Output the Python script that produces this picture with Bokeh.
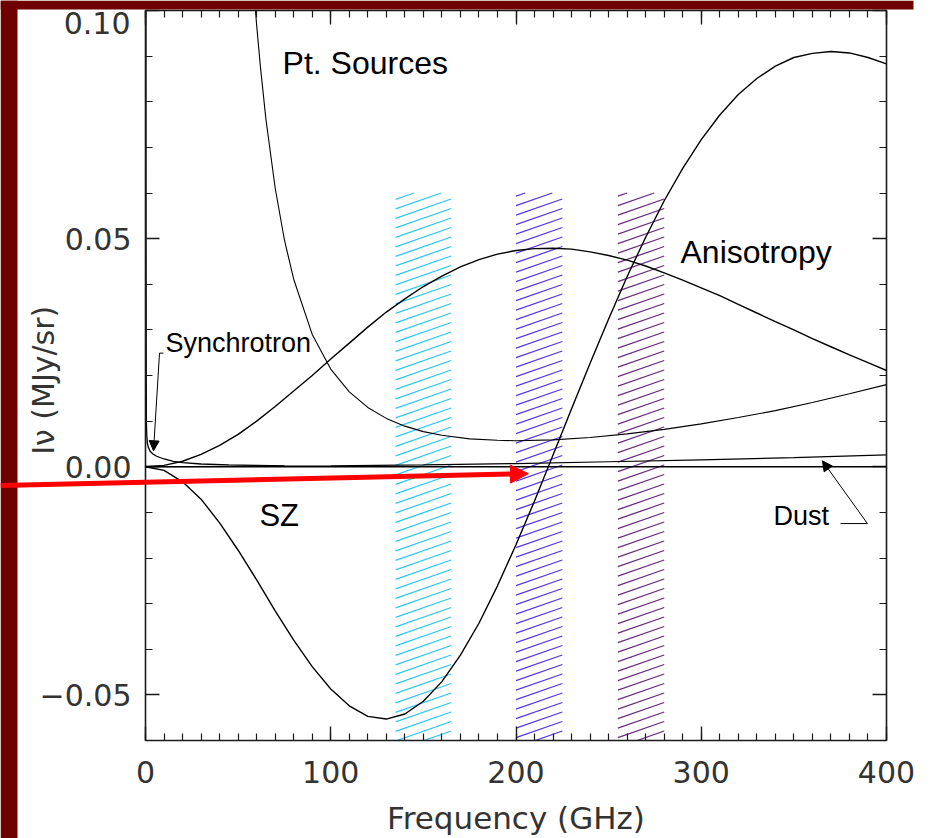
import numpy as np
from bokeh.plotting import figure
from bokeh.layouts import column
from bokeh.models import (Range1d, LinearAxis, FixedTicker, CustomJSTickFormatter,
                          Arrow, NormalHead, Label, Span)
from bokeh.embed import file_html
from bokeh.resources import INLINE

# ---------------- data ----------------
freq = [0, 10, 20, 30, 40, 50, 60, 70, 80, 90, 100, 110, 120, 130, 140, 150, 160,
        170, 180, 190, 200, 210, 220, 230, 240, 250, 260, 270, 280, 290, 300, 310,
        320, 330, 340, 350, 360, 370, 380, 390, 400]
sz = [0.0, -0.0008, -0.0033, -0.0071, -0.0123, -0.0183, -0.0248, -0.0316, -0.0380,
      -0.0438, -0.0487, -0.0524, -0.0547, -0.0553, -0.0542, -0.0514, -0.0471, -0.0413,
      -0.0343, -0.0261, -0.0171, -0.0075, 0.0026, 0.0127, 0.0227, 0.0324, 0.0417,
      0.0503, 0.0583, 0.0654, 0.0717, 0.0771, 0.0816, 0.0851, 0.0878, 0.0897, 0.0906,
      0.0910, 0.0907, 0.0897, 0.0883]
anisotropy = [0.0, 0.0003, 0.0012, 0.0027, 0.0047, 0.0071, 0.0100, 0.0132, 0.0166,
              0.0200, 0.0236, 0.0271, 0.0306, 0.0339, 0.0368, 0.0395, 0.0418, 0.0438,
              0.0454, 0.0466, 0.0474, 0.0478, 0.0479, 0.0477, 0.0471, 0.0463, 0.0453,
              0.0440, 0.0425, 0.0409, 0.0392, 0.0375, 0.0356, 0.0337, 0.0318, 0.0300,
              0.0281, 0.0263, 0.0245, 0.0228, 0.0211]

ps_freq = [58, 60, 62, 65, 70, 75, 80, 90, 100, 110, 120, 130, 140, 150, 160, 175,
           190, 200, 220, 240, 260, 280, 300, 320, 340, 360, 380, 400]
pt_sources = [0.1070, 0.0968, 0.0878, 0.0762, 0.0611, 0.0497, 0.0411, 0.0290, 0.0214,
              0.0164, 0.0130, 0.0106, 0.0089, 0.0077, 0.0069, 0.0061, 0.0058, 0.0057,
              0.0059, 0.0064, 0.0072, 0.0082, 0.0094, 0.0108, 0.0123, 0.0141, 0.0160,
              0.0180]

dust_freq = [0, 50, 100, 150, 200, 250, 300, 350, 400]
dust = [0.0, 0.0001, 0.0002, 0.0004, 0.0007, 0.0011, 0.0015, 0.0020, 0.0026]

sync_freq = [0.1, 0.2, 0.3, 0.4, 0.5, 0.7, 1.0, 1.5, 2.5, 4, 6, 10, 15, 20, 30, 45, 60, 75]
synchrotron = [0.30, 0.12, 0.05, 0.02, 0.0095, 0.0068, 0.0052, 0.0043, 0.0034, 0.0028,
               0.0023, 0.0017, 0.0012, 0.0009, 0.0006, 0.0004, 0.0003, 0.0002]

band_lo = [135, 200, 255]
band_hi = [165, 225, 280]
band_top = [0.06, 0.06, 0.06]
band_colors = ["#2cc8f4", "#5a34ee", "#6a2c7e"]

x_major = [0, 100, 200, 300, 400]
x_minor = list(range(0, 401, 10))
y_major = [-0.05, 0.0, 0.05, 0.10]
y_minor = [round(-0.06 + 0.01 * i, 2) for i in range(17)]

# ---------------- geometry ----------------
W, H = 934, 838
FL, FR, FT, FB = 145, 48, 10, 98
XR = (0, 400)
YR = (-0.06, 0.10)
px_per_x = (W - FL - FR) / (XR[1] - XR[0])
px_per_y = (H - FT - FB) / (YR[1] - YR[0])


def to_px(x, y):
    return FL + (x - XR[0]) * px_per_x, FT + (YR[1] - y) * px_per_y


# ---------------- main figure ----------------
p = figure(width=W, height=H, x_range=Range1d(*XR), y_range=Range1d(*YR),
           output_backend="svg", toolbar_location=None,
           min_border_left=FL, min_border_right=FR, min_border_top=FT, min_border_bottom=FB)
p.background_fill_color = "white"
p.border_fill_color = "white"
p.outline_line_color = None
p.xgrid.visible = False
p.ygrid.visible = False

tick_font = "DejaVu Sans"
ink = "#1a1a1a"
label_ink = "#333333"

# the top label (0.10) is drawn lower, below the frame edge, as in the reference
yfmt = CustomJSTickFormatter(code="""
    if (tick > 0.099) { return ""; }
    const s = Math.abs(tick).toFixed(2);
    return (tick < -1e-9 ? "\u2212" : "") + s;
""")
blank = CustomJSTickFormatter(code="return '';")


def style_axis(ax, labels=True, xaxis=True):
    ax.major_tick_in = 14
    ax.major_tick_out = 0
    ax.minor_tick_in = 7
    ax.minor_tick_out = 0
    ax.axis_line_color = ink
    ax.axis_line_width = 1.6
    ax.major_tick_line_color = ink
    ax.major_tick_line_width = 1.4
    ax.minor_tick_line_color = ink
    ax.minor_tick_line_width = 1.2
    if xaxis:
        ax.ticker = FixedTicker(ticks=x_major, minor_ticks=x_minor)
    else:
        ax.ticker = FixedTicker(ticks=y_major, minor_ticks=y_minor)
        ax.formatter = yfmt
    if labels:
        ax.major_label_text_font = tick_font
        ax.major_label_text_font_size = "30px"
        ax.major_label_text_color = label_ink
    else:
        ax.formatter = blank
        ax.major_label_text_font_size = "2px"
        ax.major_label_standoff = 0
        ax.axis_label = None


xa = p.xaxis[0]
ya = p.yaxis[0]
style_axis(xa, True, True)
style_axis(ya, True, False)
xa.major_label_standoff = 20
ya.major_label_standoff = 14
xa.axis_label = "Frequency (GHz)"
xa.axis_label_text_font = tick_font
xa.axis_label_text_font_size = "31px"
xa.axis_label_text_font_style = "normal"
xa.axis_label_text_color = label_ink
xa.axis_label_standoff = 14
ya.axis_label = "I\u03bd  (MJy/sr)"
ya.axis_label_text_font = tick_font
ya.axis_label_text_font_size = "30px"
ya.axis_label_text_font_style = "normal"
ya.axis_label_text_color = label_ink
ya.axis_label_standoff = -24

top_ax = LinearAxis()
right_ax = LinearAxis()
style_axis(top_ax, False, True)
style_axis(right_ax, False, False)
p.add_layout(top_ax, "above")
p.add_layout(right_ax, "right")

# ---------------- hatched frequency bands ----------------
slope = 0.35 * px_per_x / px_per_y      # data-units slope of the ~19 deg hatch lines
spacing = 9.5 / px_per_y                # vertical spacing between hatch lines

for lo, hi, top, col in zip(band_lo, band_hi, band_top, band_colors):
    bottom = YR[0]
    cs = np.arange(bottom - slope * (hi - lo), top, spacing)
    x0s, y0s, x1s, y1s = [], [], [], []
    for c in cs:
        xs, ys = lo, c
        xe, ye = hi, c + slope * (hi - lo)
        if ys < bottom:
            xs = lo + (bottom - c) / slope
            ys = bottom
        if ye > top:
            xe = lo + (top - c) / slope
            ye = top
        if xe > xs:
            x0s.append(xs); y0s.append(ys); x1s.append(xe); y1s.append(ye)
    p.segment(x0s, y0s, x1s, y1s, line_color=col, line_width=1.3)

# ---------------- curves ----------------
p.add_layout(Span(location=0, dimension="width", line_color="black", line_width=1.3))
p.line(dust_freq, dust, line_color="black", line_width=1.2)
p.line(sync_freq, synchrotron, line_color="black", line_width=1.3)
p.line(ps_freq, pt_sources, line_color="black", line_width=1.1)
p.line(freq, anisotropy, line_color="black", line_width=1.4)
p.line(freq, sz, line_color="black", line_width=1.4)

# ---------------- labels ----------------
lab_font = "Liberation Sans"
p.add_layout(Label(x=74, y=0.0845, text="Pt. Sources", text_font=lab_font,
                   text_font_size="32px", text_color="black"))
p.add_layout(Label(x=288.8, y=0.0432, text="Anisotropy", text_font=lab_font,
                   text_font_size="32px", text_color="black"))
p.add_layout(Label(x=61.5, y=-0.0146, text="SZ", text_font=lab_font,
                   text_font_size="31px", text_color="black"))
p.add_layout(Label(x=10.8, y=0.0238, text="Synchrotron", text_font=lab_font,
                   text_font_size="27px", text_color="black"))
p.add_layout(Label(x=339, y=-0.0140, text="Dust", text_font=lab_font,
                   text_font_size="27px", text_color="black"))

# pointer lines
p.add_layout(Arrow(end=None, x_start=9.7, y_start=0.0249, x_end=7.56, y_end=0.0249,
                   line_color="black", line_width=1))
p.add_layout(Arrow(end=NormalHead(size=10, fill_color="black", line_color="black"),
                   x_start=7.56, y_start=0.0249, x_end=4.32, y_end=0.0035,
                   line_color="black", line_width=1))
p.add_layout(Arrow(end=None, x_start=375.2, y_start=-0.01245, x_end=389.7, y_end=-0.01245,
                   line_color="black", line_width=1))
p.add_layout(Arrow(end=NormalHead(size=10, fill_color="black", line_color="black"),
                   x_start=389.7, y_start=-0.01245, x_end=365.4, y_end=0.0013,
                   line_color="black", line_width=1))

# ---------------- slide overlay (canvas pixel space, transparent) ----------------
deco = figure(width=W, height=H, x_range=Range1d(0, W), y_range=Range1d(H, 0),
              output_backend="svg", toolbar_location=None,
              x_axis_location=None, y_axis_location=None,
              min_border=0, min_border_left=0, min_border_right=0,
              min_border_top=0, min_border_bottom=0)
deco.background_fill_color = None
deco.border_fill_color = None
deco.outline_line_color = None
deco.xgrid.visible = False
deco.ygrid.visible = False
deco.margin = (-H, 0, 0, 0)
for fig in (p, deco):
    try:
        fig.frame_align = False
    except AttributeError:
        pass

# tick label of the top tick, drawn just below the frame corner as in the reference
lx, ly = to_px(XR[0], YR[1])
deco.add_layout(Label(x=lx - 15, y=ly + 12, text="0.10", text_font=tick_font,
                      text_font_size="30px", text_color=label_ink,
                      text_align="right", text_baseline="middle"))

dark_red = "#6e0000"
deco.quad(left=[0, 0], right=[17, 913], top=[0, 0], bottom=[H, 9],
          fill_color=dark_red, line_color=None)

ax_end, ay_end = to_px(206.7, -0.00152)
deco.add_layout(Arrow(end=NormalHead(size=18, fill_color="#ff0000", line_color="#ff0000"),
                      x_start=0, y_start=485, x_end=ax_end, y_end=ay_end,
                      line_color="#ff0000", line_width=5))

layout = column(p, deco, spacing=0)
open("out.html", "w").write(file_html(layout, INLINE))
